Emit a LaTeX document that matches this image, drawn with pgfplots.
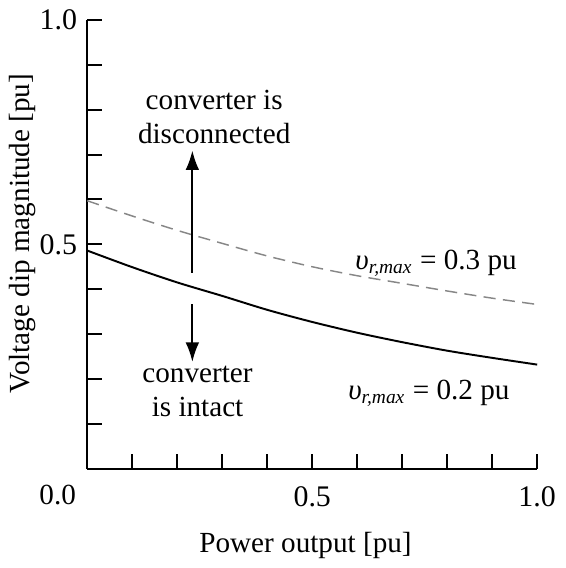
\documentclass[border=0pt]{standalone}
\usepackage{fontspec}
\setmainfont{Liberation Serif}
\usepackage{pgfplots}
\pgfplotsset{compat=1.18}
\usetikzlibrary{arrows.meta}
\definecolor{dashgray}{RGB}{135,135,135}

\begin{document}
\fontsize{12}{14.2}\selectfont
\begin{tikzpicture}
\begin{axis}[
    width=185pt, height=184.6pt, scale only axis,
    xmin=0, xmax=1, ymin=0, ymax=1,
    axis lines=left,
    axis line style={-, line width=0.8pt},
    tick align=inside,
    major tick length=6pt, minor tick length=6pt,
    every tick/.style={line width=0.8pt, black},
    xtick={0.5,1}, xticklabels={0.5,1.0},
    minor xtick={0.1,0.2,0.3,0.4,0.6,0.7,0.8,0.9},
    ytick={0.5,1}, yticklabels={0.5,1.0},
    minor ytick={0.1,0.2,0.3,0.4,0.6,0.7,0.8,0.9},
    xticklabel style={yshift=-3pt},
    tick label style={font=\fontsize{12.3}{14.2}\selectfont},
    label style={font=\fontsize{12}{14.2}\selectfont},
    xlabel={Power output [pu]},
    ylabel={Voltage dip magnitude [pu]},
    xlabel style={at={(rel axis cs:0.485,-0.17)}, anchor=center},
    ylabel style={at={(rel axis cs:-0.143,0.524)}, anchor=center},
    clip=false,
]
% vr,max = 0.2 pu
\addplot[black, line width=0.8pt, smooth] coordinates {
    (0.0,0.486) (0.1,0.449) (0.2,0.415) (0.3,0.385) (0.4,0.354) (0.5,0.327)
    (0.6,0.303) (0.7,0.282) (0.8,0.263) (0.9,0.247) (1.0,0.232)
};
% vr,max = 0.3 pu
\addplot[dashgray, line width=0.6pt, dash pattern=on 5pt off 3pt, smooth] coordinates {
    (0.0,0.597) (0.1,0.563) (0.2,0.531) (0.3,0.502) (0.4,0.474) (0.5,0.450)
    (0.6,0.430) (0.7,0.413) (0.8,0.396) (0.9,0.380) (1.0,0.366)
};

\draw[-{Latex[length=8pt,width=5.6pt]}, line width=0.8pt]
    (axis cs:0.2335,0.437) -- (axis cs:0.2335,0.709);
\draw[-{Latex[length=8pt,width=5.6pt]}, line width=0.8pt]
    (axis cs:0.2335,0.366) -- (axis cs:0.2335,0.238);

\node[align=center, font=\fontsize{12}{14.2}\selectfont] at (axis cs:0.282,0.784)
    {converter is\\disconnected};
\node[align=center, font=\fontsize{12}{14.2}\selectfont] at (axis cs:0.245,0.172)
    {converter\\is intact};

\node[anchor=base west, inner sep=0pt] at (axis cs:0.595,0.444)
    {\textit{υ}\textsubscript{\textit{r,max}} = 0.3 pu};
\node[anchor=base west, inner sep=0pt] at (axis cs:0.579,0.1545)
    {\textit{υ}\textsubscript{\textit{r,max}} = 0.2 pu};

\node at (rel axis cs:0,0) [xshift=-12.2pt, yshift=-11pt] {0.0};
\end{axis}
\end{tikzpicture}
\end{document}
